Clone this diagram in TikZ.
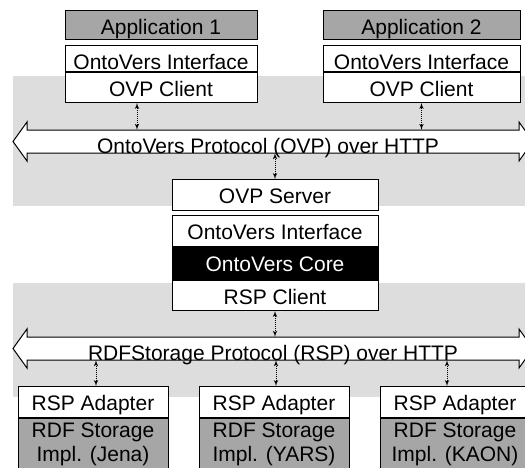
\documentclass[tikz,border=0pt]{standalone}
\usepackage{fontspec}
\setmainfont{Liberation Sans}
\usetikzlibrary{arrows}

\definecolor{implgray}{RGB}{166,166,166}
\definecolor{bandgray}{RGB}{221,221,221}

\begin{document}
\begin{tikzpicture}[x=1pt,y=-1pt]
        \tikzset{layer/.style = {shape=rectangle,draw,fill=white,anchor=north,inner sep=0pt,line width=1pt,
                text height=24pt,text depth=#1,font=\fontsize{21}{25}\selectfont},layer/.default=6pt}
        \tikzset{impl/.style = {shape=rectangle,draw,fill=implgray,anchor=north,inner sep=0pt,line width=1pt,
                minimum height=52pt,align=center,font=\fontsize{21}{24}\selectfont}}
        \tikzset{proto/.style = {inner sep=0pt,text height=23pt,text depth=0pt,font=\fontsize{21}{25}\selectfont}}
        \tikzset{pipe/.style = {draw,fill=white,line width=1pt}}
        \tikzset{edge/.style = {<->,> = latex',densely dotted,line width=1pt}}
        \useasboundingbox (0,0) rectangle (525,467);
        \clip (0,0) rectangle (525,467);
        % bands
        \fill[bandgray] (13,76) rectangle (540,206);
        \fill[bandgray] (13,283) rectangle (540,397);
        % protocols
        \draw[pipe] (13,141.5) -- (27,122) -- (27,130) -- (519,130) -- (519,122) -- (533,141.5)
                -- (519,161) -- (519,153) -- (27,153) -- (27,161) -- cycle;
        \draw[pipe] (13,348.5) -- (27,329) -- (27,337) -- (519,337) -- (519,329) -- (533,348.5)
                -- (519,368) -- (519,360) -- (27,360) -- (27,368) -- cycle;
        \node[proto] (ovp) at (268,141.5) {OntoVers Protocol (OVP) over HTTP};
        \node[proto] (rsp) at (273,348.5) {RDFStorage Protocol (RSP) over HTTP};
        % applications
        \node[layer=5pt,fill=implgray,minimum width=192pt] (app1) at (161,10) {Application 1};
        \node[layer=2pt,minimum width=192pt] (ovi1) at (161,45) {OntoVers Interface};
        \node[layer,minimum width=192pt] (ovc1) at (ovi1.south) {OVP Client};
        \node[layer=5pt,fill=implgray,minimum width=197pt] (app2) at (421.5,10) {Application 2};
        \node[layer=2pt,minimum width=197pt] (ovi2) at (421.5,45) {OntoVers Interface};
        \node[layer,minimum width=197pt] (ovc2) at (ovi2.south) {OVP Client};
        % server
        \node[layer=7pt,minimum width=206pt] (srv) at (275,179) {OVP Server};
        \node[layer=7pt,minimum width=206pt] (ovi3) at (275,215) {OntoVers Interface};
        \node[layer=8pt,minimum width=206pt,fill=black,text=white] (core) at (ovi3.south) {OntoVers Core};
        \node[layer,minimum width=206pt] (rspc) at (core.south) {RSP Client};
        % storages
        \node[layer=7pt,minimum width=150pt] (ada1) at (93,386) {RSP Adapter};
        \node[layer=7pt,minimum width=150pt] (ada2) at (274,386) {RSP Adapter};
        \node[layer=7pt,minimum width=150pt] (ada3) at (455,386) {RSP Adapter};
        \node[impl,minimum width=150pt] (jena) at (ada1.south) {RDF Storage\\Impl. (Jena)};
        \node[impl,minimum width=150pt] (yars) at (ada2.south) {RDF Storage\\Impl. (YARS)};
        \node[impl,minimum width=150pt] (kaon) at (ada3.south) {RDF Storage\\Impl. (KAON)};
        % edges
        \draw[edge] ([xshift=-24pt]ovc1.south) -- ([xshift=-24pt]ovc1.south |- ovp.north);
        \draw[edge] (ovc2.south) -- (ovc2.south |- ovp.north);
        \draw[edge] (ovp.south -| srv.north) -- (srv.north);
        \draw[edge] (rspc.south) -- (rspc.south |- rsp.north);
        \draw[edge] ([xshift=3pt]ada1.north |- rsp.south) -- ([xshift=3pt]ada1.north);
        \draw[edge] ([xshift=2pt]ada2.north |- rsp.south) -- ([xshift=2pt]ada2.north);
        \draw[edge] ([xshift=-8pt]ada3.north |- rsp.south) -- ([xshift=-8pt]ada3.north);
\end{tikzpicture}
\end{document}
